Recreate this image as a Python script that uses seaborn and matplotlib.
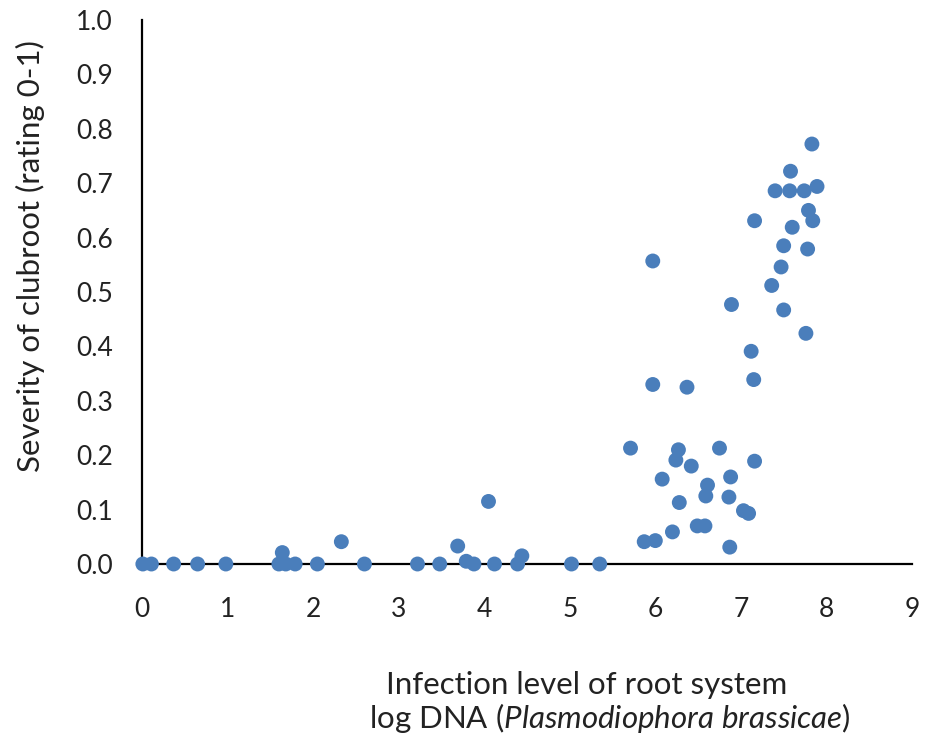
import matplotlib
matplotlib.use("Agg")
import matplotlib.pyplot as plt
import seaborn as sns
import pandas as pd

log_dna = [0.01, 0.11, 0.37, 0.65, 0.98, 1.60, 1.64, 1.68, 1.79, 2.05, 2.33, 2.60,
           3.22, 3.48, 3.69, 3.79, 3.88, 4.05, 4.12, 4.39, 4.44, 5.02, 5.35,
           5.71, 6.27, 6.24, 6.42, 6.75, 7.16, 6.08, 6.61, 6.59, 6.88, 6.86, 6.28,
           7.03, 7.09, 6.49, 6.58, 6.20, 5.87, 6.00, 6.87,
           5.97, 5.97, 6.37, 6.89, 7.12, 7.15, 7.50, 7.47, 7.36, 7.50,
           7.83, 7.58, 7.40, 7.57, 7.74, 7.89, 7.79, 7.84, 7.16, 7.60, 7.78, 7.76]
severity = [0.0, 0.0, 0.0, 0.0, 0.0, 0.0, 0.021, 0.0, 0.0, 0.0, 0.041, 0.0,
            0.0, 0.0, 0.033, 0.005, 0.0, 0.115, 0.0, 0.0, 0.015, 0.0, 0.0,
            0.213, 0.210, 0.191, 0.180, 0.213, 0.189, 0.156, 0.145, 0.125, 0.160, 0.123, 0.113,
            0.098, 0.093, 0.070, 0.070, 0.059, 0.041, 0.043, 0.031,
            0.557, 0.330, 0.325, 0.477, 0.391, 0.339, 0.585, 0.546, 0.512, 0.467,
            0.772, 0.722, 0.686, 0.686, 0.686, 0.694, 0.650, 0.631, 0.631, 0.619, 0.579, 0.424]

x_ticks = [0, 1, 2, 3, 4, 5, 6, 7, 8, 9]
y_ticks = [0.0, 0.1, 0.2, 0.3, 0.4, 0.5, 0.6, 0.7, 0.8, 0.9, 1.0]

df = pd.DataFrame({"x": log_dna, "y": severity})

sns.set_style("white")
plt.rcParams["font.family"] = ["Lato", "DejaVu Sans"]
plt.rcParams["mathtext.fontset"] = "custom"
plt.rcParams["mathtext.it"] = "Lato:italic"
plt.rcParams["mathtext.rm"] = "Lato"

fig = plt.figure(figsize=(9.26, 7.44), dpi=100)
ax = fig.add_axes([142/926, 1 - 564/744, (912-142)/926, (564-20)/744])

sns.scatterplot(data=df, x="x", y="y", ax=ax, color="#4A7EBB", s=115,
                edgecolor="none", clip_on=False, zorder=3)

ax.set_xlim(0, 9)
ax.set_ylim(0, 1.0)
ax.set_xticks(x_ticks)
ax.set_xticklabels([str(t) for t in x_ticks])
ax.set_yticks(y_ticks)
ax.set_yticklabels([f"{t:.1f}" for t in y_ticks])
ax.tick_params(axis="both", length=0, labelsize=19, colors="#222222")
ax.tick_params(axis="x", pad=24)
ax.tick_params(axis="y", pad=21)
for side in ["top", "right"]:
    ax.spines[side].set_visible(False)
for side in ["left", "bottom"]:
    ax.spines[side].set_color("black")
    ax.spines[side].set_linewidth(1.6)
ax.set_xlabel("")
ax.set_ylabel("")

fig.text(30/926, 1 - 256/744, "Severity of clubroot (rating 0-1)", rotation=90,
         ha="center", va="center", fontsize=22.5, color="#222222")
fig.text(587/926, 1 - 685/744, "Infection level of root system", ha="center", va="center",
         fontsize=22.5, color="#222222")
fig.text(610/926, 1 - 718/744, r"log DNA ($\mathit{Plasmodiophora\ brassicae}$)", ha="center",
         va="center", fontsize=22.5, color="#222222")

fig.savefig("out.png", dpi=100)
